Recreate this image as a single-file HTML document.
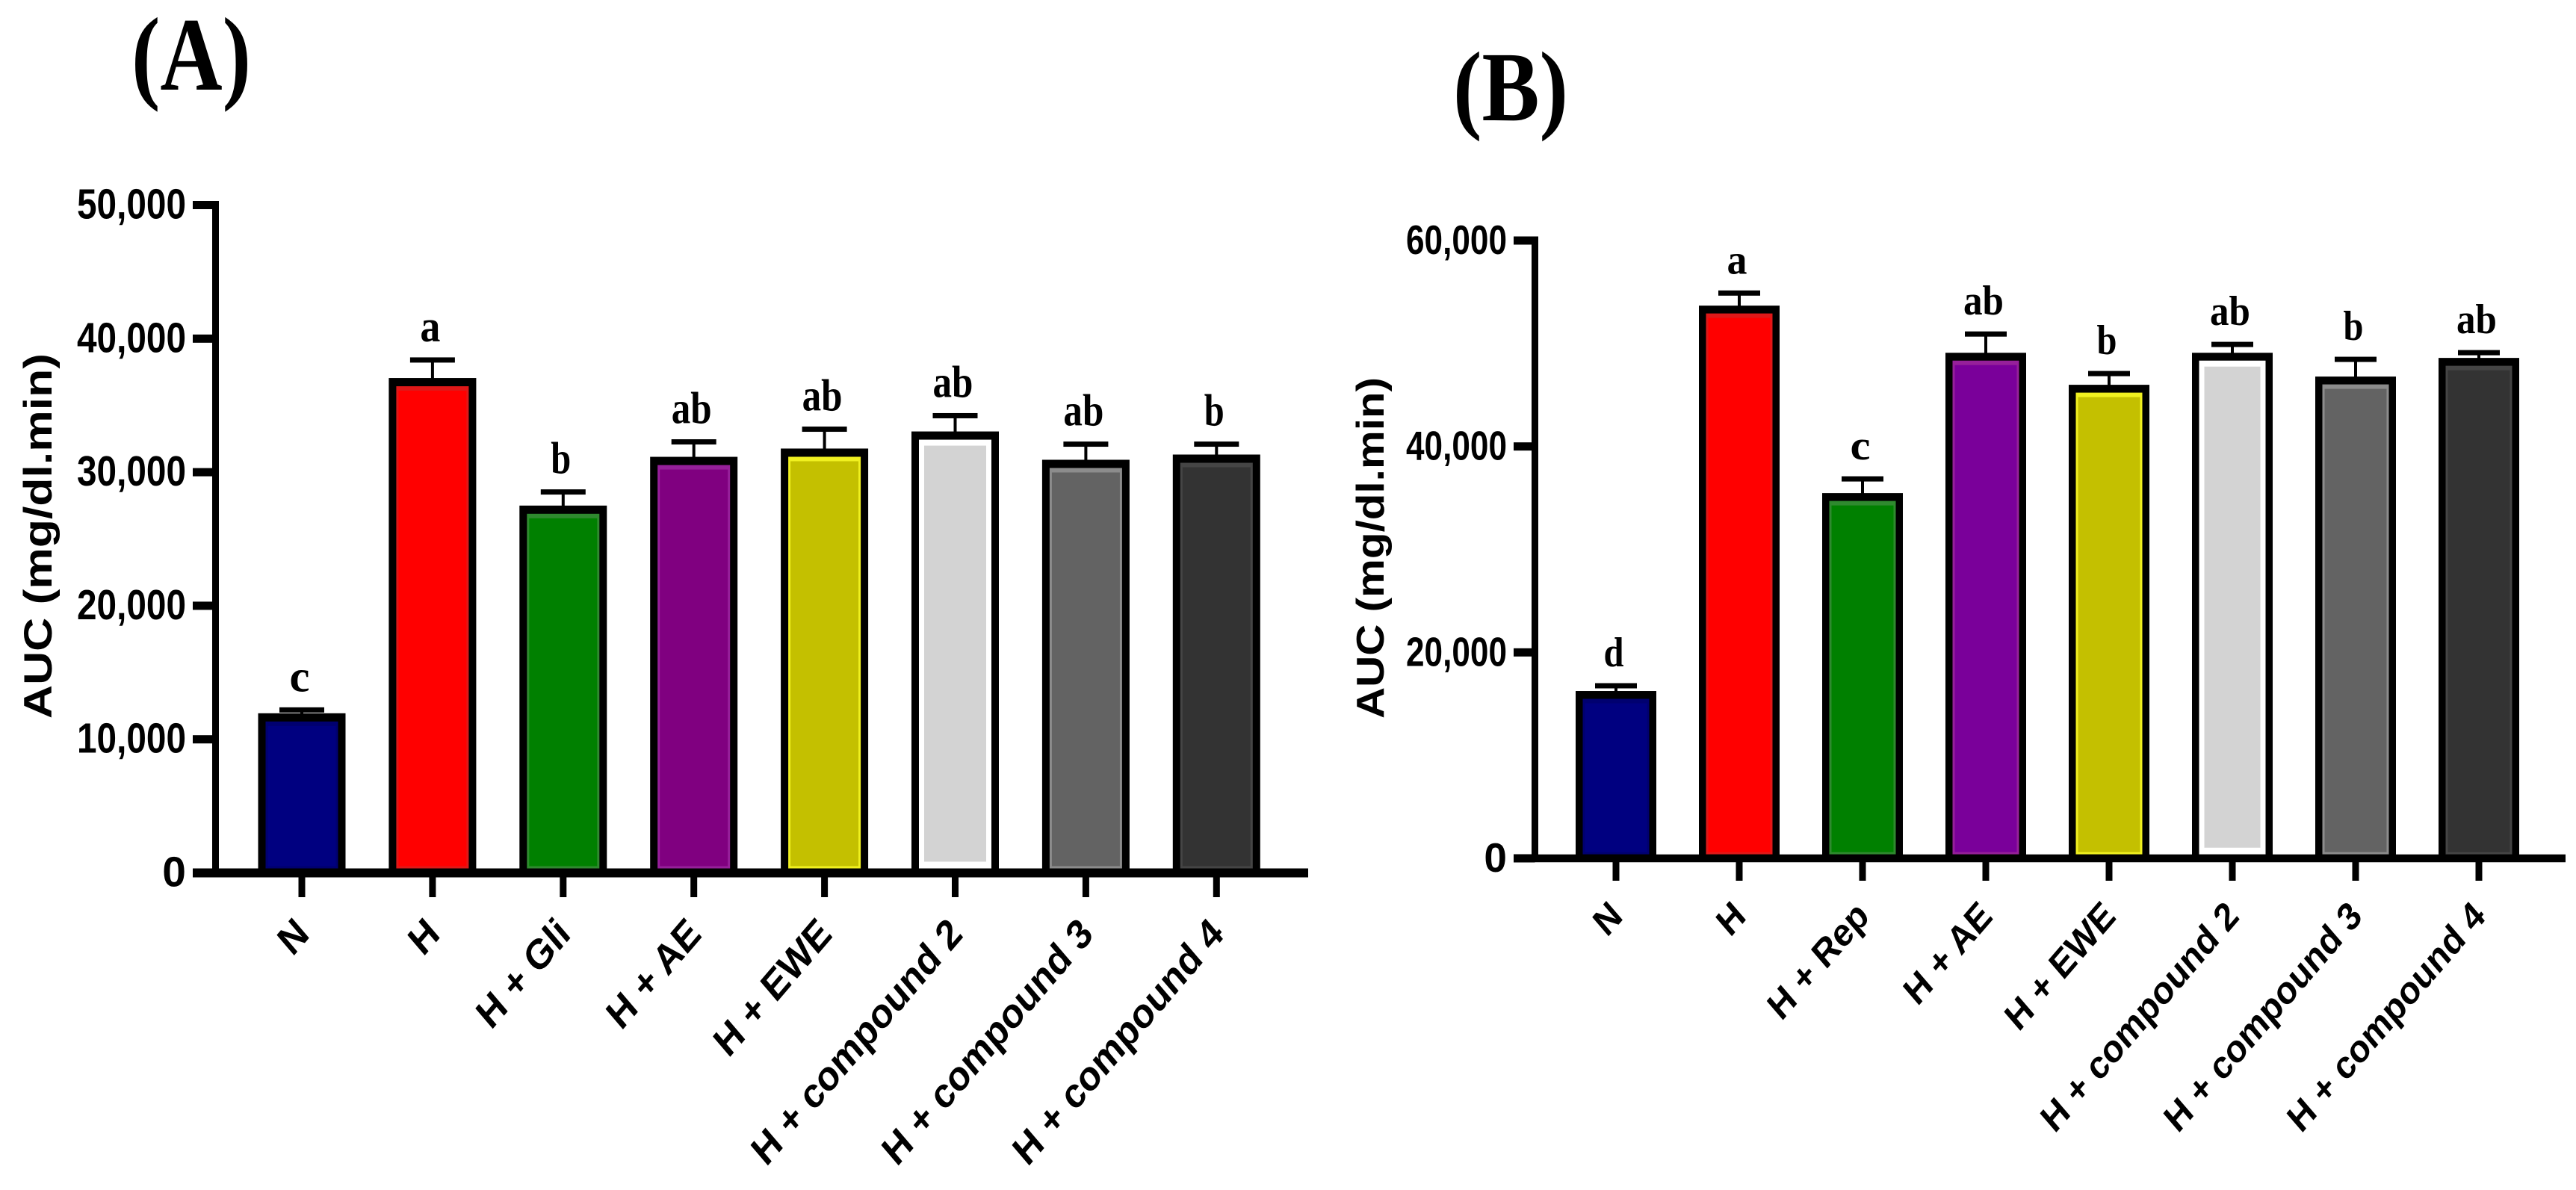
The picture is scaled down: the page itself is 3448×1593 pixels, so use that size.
<!DOCTYPE html>
<html lang="en">
<head>
<meta charset="utf-8">
<title>AUC bar charts</title>
<style>
html,body{margin:0;padding:0;background:#fff;width:3448px;height:1593px;overflow:hidden}
svg{display:block}
.sans{font-family:"Liberation Sans",Arial,sans-serif;font-weight:700;fill:#000}
.serif{font-family:"Liberation Serif","Times New Roman",serif;font-weight:700;fill:#000}
</style>
</head>
<body>
<svg id="figure" xmlns="http://www.w3.org/2000/svg" width="3448" height="1593" viewBox="0 0 3448 1593">
  <rect x="0" y="0" width="3448" height="1593" fill="#fff"/>
  <text class="serif" x="176" y="120" font-size="140" textLength="160" lengthAdjust="spacingAndGlyphs">(A)</text>
  <text class="serif" x="1945" y="161" font-size="133" textLength="154" lengthAdjust="spacingAndGlyphs">(B)</text>
  <g id="panelA"></g>
  <g id="panelB"></g>
</svg>
<script>
// ---- Panel A data ----
const categoriesA = ["N", "H", "H + Gli", "H + AE", "H + EWE", "H + compound 2", "H + compound 3", "H + compound 4"];
const meansA = [11950, 37050, 27500, 31150, 31770, 33050, 30930, 31320];
const errorTopsA = [12200, 38400, 28520, 32270, 33220, 34230, 32100, 32100];
const lettersA = ["c", "a", "b", "ab", "ab", "ab", "ab", "b"];
const tickValuesA = [0, 10000, 20000, 30000, 40000, 50000];

// ---- Panel B data ----
const categoriesB = ["N", "H", "H + Rep", "H + AE", "H + EWE", "H + compound 2", "H + compound 3", "H + compound 4"];
const meansB = [16250, 53680, 35470, 49100, 45990, 49100, 46790, 48600];
const errorTopsB = [16760, 54900, 36850, 50920, 47080, 49910, 48460, 49110];
const lettersB = ["d", "a", "c", "ab", "b", "ab", "b", "ab"];
const tickValuesB = [0, 20000, 40000, 60000];

// ---- Series colours ----
const fills = ["#000080", "#ff0000", "#008000", "#800080", "#c4c000", "#d3d3d3", "#636363", "#333333"];
const rims  = ["#000070", "#e01818", "#2f8a2f", "#96209a", "#f0f020", "#d3d3d3", "#8c8c8c", "#454545"];
const fillsB = ["#000080", "#ff0000", "#008000", "#7a009a", "#c4c000", "#d3d3d3", "#636363", "#333333"];

const NS = "http://www.w3.org/2000/svg";
function mk(parent, tag, attrs, text) {
  const el = document.createElementNS(NS, tag);
  for (const k in attrs) el.setAttribute(k, attrs[k]);
  if (text !== undefined) el.textContent = text;
  parent.appendChild(el);
  return el;
}
function slug(s) {
  return s.toLowerCase().replace(/[^a-z0-9]+/g, "-").replace(/^-|-$/g, "");
}

function drawPanel(root, cfg) {
  const yScale = v => cfg.y0 - (v - cfg.vMin) * (cfg.y0 - cfg.yTop) / (cfg.vMax - cfg.vMin);
  const xScale = i => cfg.x0 + i * cfg.step;

  // bars
  cfg.categories.forEach((cat, i) => {
    const cx = xScale(i);
    const top = yScale(cfg.means[i]);
    const capY = yScale(cfg.errors[i]);
    const left = cx - cfg.barW / 2;
    const name = slug(cat);

    const stem = mk(root, "rect", {x: cx - 2, y: capY, width: 4, height: top - capY + 2, fill: "#000"});
    
    

    const cap = mk(root, "rect", {x: cx - cfg.capW / 2, y: capY - 3.5, width: cfg.capW, height: 7, fill: "#000"});
    
    

    const bar = mk(root, "rect", {x: left, y: top, width: cfg.barW, height: cfg.y0 - top, fill: "#000"});
    
    

    const innerX = left + cfg.side, innerW = cfg.barW - 2 * cfg.side, innerY = top + cfg.topB;
    const innerH = cfg.y0 - cfg.axisH / 2 - innerY;
    const isPale = cfg.fills[i] === "#d3d3d3";
    if (isPale) {
      const gap = mk(root, "rect", {x: innerX, y: innerY, width: innerW, height: innerH, fill: "#fff"});
      
      
      const pale = mk(root, "rect", {x: innerX + 7, y: innerY + 8, width: innerW - 14, height: innerH - 17, fill: cfg.fills[i]});
      
      
    } else {
      const rim = mk(root, "rect", {x: innerX, y: innerY, width: innerW, height: innerH, fill: rims[i]});
      
      
      const fill = mk(root, "rect", {x: innerX + 3, y: innerY + 6, width: innerW - 6, height: innerH - 9, fill: cfg.fills[i]});
      
      
    }

    const letter = mk(root, "text", {
      x: cx - 3, y: capY - cfg.letterGap, "text-anchor": "middle", "class": "serif",
      "font-size": cfg.letterSize, textLength: cfg.letters[i].length * 27, lengthAdjust: "spacingAndGlyphs"
    }, cfg.letters[i]);
    
    

    const tick = mk(root, "rect", {x: cx - 4.5, y: cfg.y0, width: 9, height: cfg.xTickEnd - cfg.y0, fill: "#000"});
    
    

    const lx = cx + cfg.labelDx, ly = cfg.labelY;
    const label = mk(root, "text", {
      "class": "sans", "text-anchor": "end", "font-size": cfg.xFont,
      transform: "translate(" + lx + " " + ly + ") scale(" + cfg.sx + " " + cfg.sy + ") rotate(-45)"
    }, cat);
    
    
  });

  // y axis
  const spine = mk(root, "rect", {x: cfg.spineX - 4.5, y: yScale(cfg.vMax) - 5.5, width: 9, height: cfg.y0 - yScale(cfg.vMax) + 5.5, fill: "#000"});
  
  

  cfg.ticks.forEach(v => {
    const y = yScale(v);
    const t = mk(root, "rect", {x: cfg.axisLeft, y: y - 5.5, width: cfg.spineX - cfg.axisLeft, height: 11, fill: "#000"});
    
    

    const str = v.toLocaleString("en-US");
    const labelAttrs = {x: cfg.axisLeft - 9, y: y + cfg.yLabelDy, "text-anchor": "end", "class": "sans", "font-size": cfg.yFont};
    if (v !== 0) {
      labelAttrs.textLength = cfg.yLabelW;
      labelAttrs.lengthAdjust = "spacingAndGlyphs";
    }
    const lab = mk(root, "text", labelAttrs, str);
    
    
  });

  // x axis
  const base = mk(root, "rect", {x: cfg.axisLeft, y: cfg.y0 - cfg.axisH / 2, width: cfg.axisRight - cfg.axisLeft, height: cfg.axisH, fill: "#000"});
  
  

  // y title
  const title = mk(root, "text", {
    "class": "sans", "font-size": cfg.titleFont, textLength: cfg.titleLen, lengthAdjust: "spacingAndGlyphs",
    transform: "translate(" + cfg.titleX + " " + cfg.titleY + ") rotate(-90)"
  }, "AUC (mg/dl.min)");
  
  
}

drawPanel(document.getElementById("panelA"), {
  categories: categoriesA, means: meansA, errors: errorTopsA, letters: lettersA, ticks: tickValuesA, fills: fills,
  vMin: 0, vMax: 50000, y0: 1168.5, yTop: 274.5,
  x0: 404, step: 174.9, barW: 117, side: 10, topB: 11, capW: 60, axisH: 12,
  spineX: 288.5, axisLeft: 258, axisRight: 1751, xTickEnd: 1201,
  letterGap: 25, letterSize: 60, labelDx: 12, labelY: 1253, xFont: 48, sx: 1.0, sy: 1.17,
  yFont: 57, yLabelDy: 18, yLabelW: 146,
  titleFont: 53, titleLen: 489, titleX: 69, titleY: 962
});

drawPanel(document.getElementById("panelB"), {
  categories: categoriesB, means: meansB, errors: errorTopsB, letters: lettersB, ticks: tickValuesB, fills: fillsB,
  vMin: 0, vMax: 60000, y0: 1149, yTop: 322,
  x0: 2163, step: 165, barW: 108, side: 9.5, topB: 10.5, capW: 56, axisH: 10.5,
  spineX: 2054.5, axisLeft: 2026, axisRight: 3434, xTickEnd: 1179,
  letterGap: 26, letterSize: 56, labelDx: 11, labelY: 1229, xFont: 46, sx: 0.98, sy: 1.14,
  yFont: 55, yLabelDy: 18, yLabelW: 135,
  titleFont: 52, titleLen: 457, titleX: 1852, titleY: 962
});
</script>
</body>
</html>
